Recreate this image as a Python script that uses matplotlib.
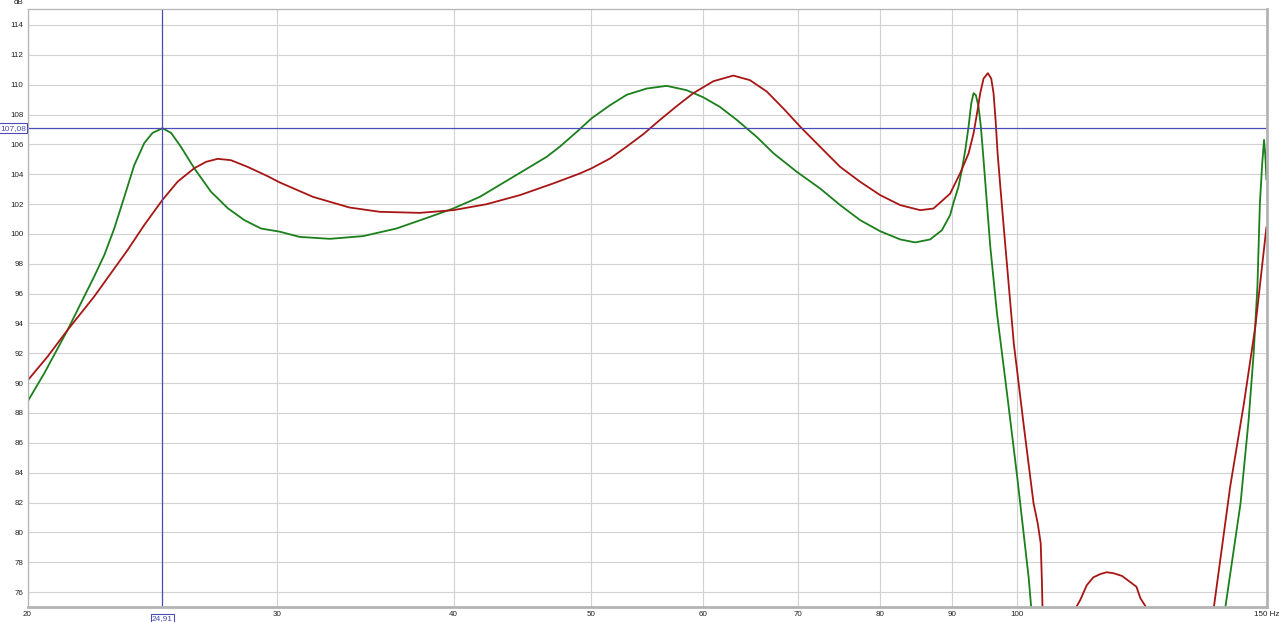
import numpy as np
import matplotlib
matplotlib.use("Agg")
import matplotlib.pyplot as plt
from matplotlib.ticker import FixedLocator, NullLocator

nan = np.nan

# Green trace (Hz, dB)
green_f = [20.0, 20.55, 21.35, 21.81, 22.29, 22.66, 23.03, 23.41, 23.79, 24.18, 24.51, 24.91,
           25.26, 25.67, 26.23, 26.95, 27.70, 28.46, 29.24, 30.14, 31.13, 32.70, 34.51, 36.44,
           38.47, 39.96, 41.73, 44.06, 46.52, 47.54, 48.85, 50.06, 51.57, 52.99, 54.74, 56.55,
           58.42, 60.0, 61.67, 63.38, 65.47, 67.27, 69.88, 72.59, 74.99, 77.47, 80.03, 82.68,
           84.72, 86.81, 88.48, 89.67, 90.17, 90.89, 91.4, 91.9, 92.4, 92.8, 93.16, 93.5, 93.91,
           94.27, 94.68, 95.2, 95.72, 96.77, 98.36, 100.0, 101.9, 102.3,
           120.0,
           140.3, 143.8, 145.7, 146.9, 147.8, 148.4, 148.96, 149.4, 149.7, 150.0]
green_db = [88.76, 90.65, 93.57, 95.34, 97.14, 98.58, 100.36, 102.48, 104.6, 106.08, 106.77, 107.08,
            106.77, 105.83, 104.4, 102.83, 101.72, 100.92, 100.36, 100.15, 99.80, 99.67, 99.85, 100.36,
            101.14, 101.70, 102.48, 103.82, 105.16, 105.85, 106.83, 107.75, 108.62, 109.32, 109.74, 109.92,
            109.63, 109.16, 108.51, 107.64, 106.5, 105.41, 104.16, 103.04, 101.93, 100.92, 100.18, 99.63,
            99.43, 99.63, 100.25, 101.26, 102.1, 103.15, 104.29, 105.6, 107.19, 108.74, 109.43, 109.3, 108.53,
            107.17, 104.96, 102.04, 99.15, 94.68, 89.32, 83.73, 76.92, 75.0,
            nan,
            75.0, 81.95, 87.53, 92.0, 96.47, 102.06, 104.72, 106.3, 105.3, 103.6]

# Red trace (Hz, dB)
red_f = [20.0, 20.66, 21.35, 22.29, 22.90, 23.54, 24.18, 24.91, 25.53, 26.23, 26.74, 27.25,
         27.84, 28.61, 29.55, 30.14, 31.82, 33.76, 35.47, 37.85, 39.96, 42.19, 44.55, 47.02,
         49.11, 50.06, 51.57, 52.99, 54.44, 55.94, 57.48, 59.06, 61.01, 63.03, 64.76, 66.55,
         68.38, 70.26, 72.98, 74.99, 77.47, 80.03, 82.68, 85.42, 87.27, 88.23, 89.67, 91.15,
         92.4, 93.16, 93.76, 94.17, 94.68, 95.35, 95.87, 96.23, 96.55, 96.87, 97.3, 97.83,
         99.45, 101.1, 102.7, 103.4, 103.9, 104.1, 104.2,
         107.0,
         110.1, 110.8, 112.0, 113.2, 114.5, 115.7, 117.0, 118.6, 121.4, 122.2, 123.3,
         130.0,
         137.7, 141.4, 144.6, 147.3, 150.0]
red_db = [90.17, 91.77, 93.57, 95.80, 97.35, 98.93, 100.59, 102.28, 103.5, 104.4, 104.83, 105.03,
          104.94, 104.49, 103.87, 103.45, 102.48, 101.77, 101.48, 101.41, 101.59, 101.99, 102.6, 103.38,
          104.05, 104.4, 105.05, 105.85, 106.68, 107.64, 108.56, 109.43, 110.23, 110.61, 110.3, 109.54,
          108.4, 107.19, 105.61, 104.49, 103.49, 102.6, 101.93, 101.59, 101.7, 102.1, 102.7, 104.07,
          105.39, 106.75, 108.29, 109.43, 110.41, 110.77, 110.41, 109.43, 107.62, 105.39, 103.15, 100.49,
          92.67, 87.08, 81.95, 80.6, 79.27, 76.8, 75.0,
          nan,
          75.0, 75.47, 76.47, 76.99, 77.21, 77.33, 77.26, 77.08, 76.36, 75.58, 75.0,
          nan,
          75.0, 83.07, 88.65, 93.79, 100.49]

x_ticks = [20, 30, 40, 50, 60, 70, 80, 90, 100, 150]
x_labels = ["20", "30", "40", "50", "60", "70", "80", "90", "100", "150 Hz"]
y_ticks = list(range(76, 115, 2))
y_labels = [str(v) for v in y_ticks]

cursor_f = 24.91
cursor_db = 107.08

plt.rcParams['font.family'] = ['Liberation Sans', 'DejaVu Sans']

fig = plt.figure(figsize=(12.8, 6.22), dpi=100)
ax = fig.add_axes([27.5 / 1280, 15 / 622, 1239 / 1280, 597.7 / 622])

ax.set_xscale('log')
ax.set_xlim(20, 150)
ax.set_ylim(75, 115.05)

ax.xaxis.set_major_locator(FixedLocator(x_ticks))
ax.xaxis.set_minor_locator(NullLocator())
ax.set_xticklabels(x_labels)
ax.set_yticks(y_ticks)
ax.set_yticklabels(y_labels)

ax.grid(True, color='#d2d2d2', linewidth=0.8)
ax.set_axisbelow(True)
ax.tick_params(length=0, labelsize=5.8, colors='#222222', pad=3)

for side in ['left', 'top']:
    ax.spines[side].set_color('#b4b4b4')
    ax.spines[side].set_linewidth(0.9)
for side in ['right', 'bottom']:
    ax.spines[side].set_color('#b4b4b4')
    ax.spines[side].set_linewidth(2.0)

ax.plot(green_f, green_db, color='#1b7f1b', linewidth=1.3,
        solid_joinstyle='round', solid_capstyle='butt')
ax.plot(red_f, red_db, color='#a81515', linewidth=1.3,
        solid_joinstyle='round', solid_capstyle='butt')

cur_col = '#4a4ab8'
ax.axvline(cursor_f, color=cur_col, linewidth=0.9)
ax.axhline(cursor_db, color=cur_col, linewidth=0.9)

box = dict(boxstyle='square,pad=0.15', facecolor='white', edgecolor=cur_col, linewidth=0.8)
ax.annotate("107,08", xy=(0, cursor_db), xycoords=('axes fraction', 'data'),
            xytext=(-1, 0), textcoords='offset points', ha='right', va='center',
            fontsize=6, color=cur_col, bbox=box, annotation_clip=False)
ax.annotate("24,91", xy=(cursor_f, 0), xycoords=('data', 'axes fraction'),
            xytext=(0, -8.5), textcoords='offset points', ha='center', va='center',
            fontsize=6, color=cur_col, bbox=box, annotation_clip=False)

fig.text(18.5 / 1280, 1 - 3 / 622, "dB", fontsize=5.8, color='#222222', ha='center', va='center')

fig.savefig("out.png", dpi=100)
